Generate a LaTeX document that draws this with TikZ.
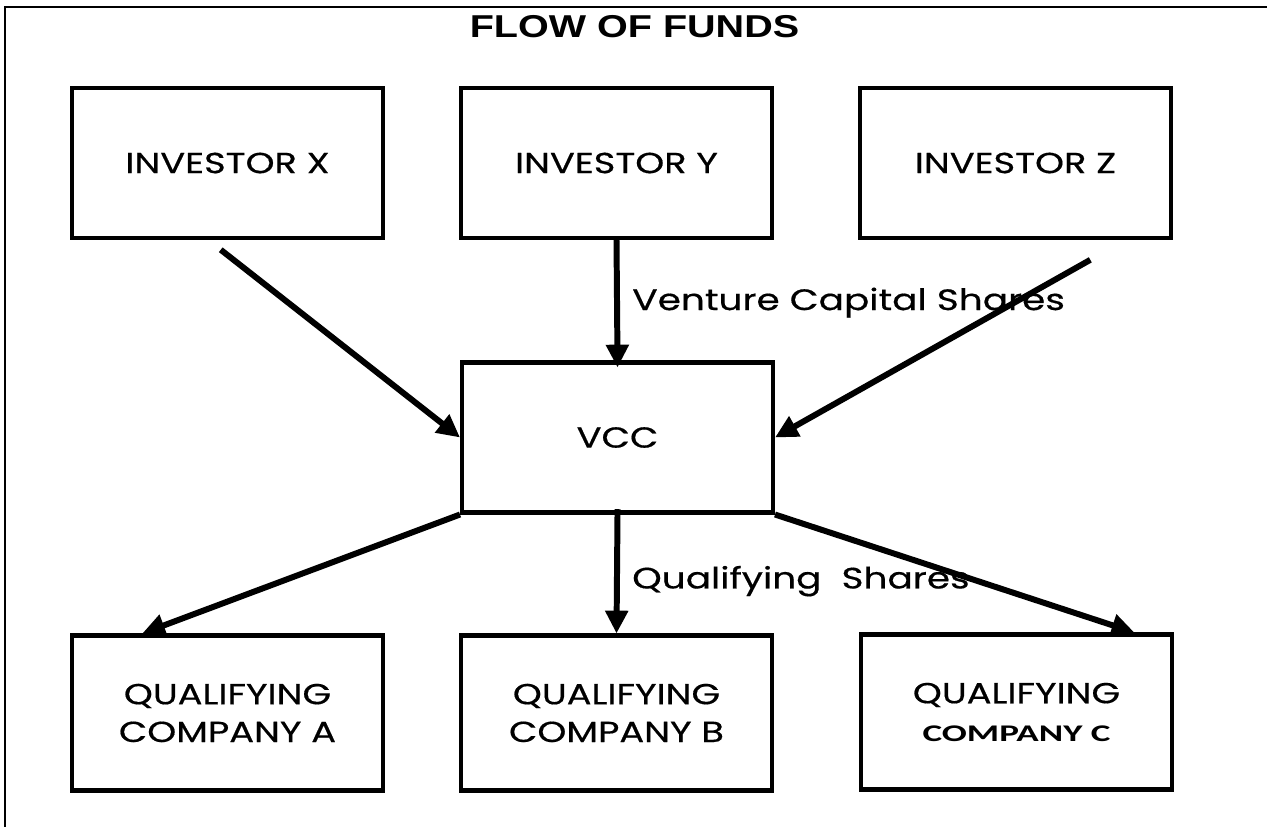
\documentclass[tikz,border=0pt]{standalone}
\usepackage{fontspec}
\setmainfont{Poppins}[FakeStretch=1.27, FakeBold=0.5]
\newfontfamily\headfont{Liberation Sans}[FakeStretch=1.25]
\newfontfamily\narrowfont{Carlito}[FakeStretch=1.55]
\usetikzlibrary{arrows.meta}

\begin{document}
\begin{tikzpicture}[
    x=0.02cm, y=-0.02cm,
    box/.style={draw, line width=2.3pt, inner sep=0pt, minimum width=6.22cm,
      minimum height=3cm, align=center, font=\fontsize{16.5}{21.5}\selectfont},
    lowbox/.style={box, minimum height=3.1cm},
    flow/.style={-{Triangle[length=13pt,width=12.5pt]}, line width=3.4pt},
    lbl/.style={font=\fontsize{16.8}{20}\selectfont, inner sep=0pt},
  ]
  \useasboundingbox (0,0) rectangle (1267,827);
  % frame, only top and left edges
  \draw[line width=1.5pt] (5,827) -- (5,7) -- (1267,7);
  \node[font=\headfont\bfseries\fontsize{18}{20}\selectfont] (title) at (634.5,27) {FLOW OF FUNDS};

  % investors
  \node[box] (invx) at (227.5,163) {INVESTOR X};
  \node[box] (invy) at (616.5,163) {INVESTOR Y};
  \node[box] (invz) at (1015.5,163) {INVESTOR Z};
  % the fund
  \node[box] (vcc) at (617.5,437.5) {VCC};
  % companies
  \node[lowbox] (qca) at (227.5,713) {QUALIFYING\\COMPANY A};
  \node[lowbox] (qcb) at (616.5,713) {QUALIFYING\\COMPANY B};
  \node[lowbox] (qcc) at (1016.5,712) {QUALIFYING\\{\narrowfont\bfseries\fontsize{13.6}{15}\selectfont COMPANY C}};

  % money in
  \draw[flow, shorten <=9pt] (invx.-104) -- (vcc.west);
  \draw[flow, shorten >=-4pt] (invy.south) -- (vcc.north)
    node[lbl, pos=0.52, right=7pt] (vcs) {Venture Capital Shares};
  \draw[flow, shorten <=23pt] (invz.-35) -- (vcc.east);
  % money out
  \draw[flow] (vcc.south west) -- (qca.137);
  \draw[flow, shorten <=-3pt] (vcc.south) -- (qcb.north)
    node[lbl, pos=0.56, right=7pt] (qs) {Qualifying~~Shares};
  \draw[flow] (vcc.south east) -- (qcc.34);
\end{tikzpicture}
\end{document}
